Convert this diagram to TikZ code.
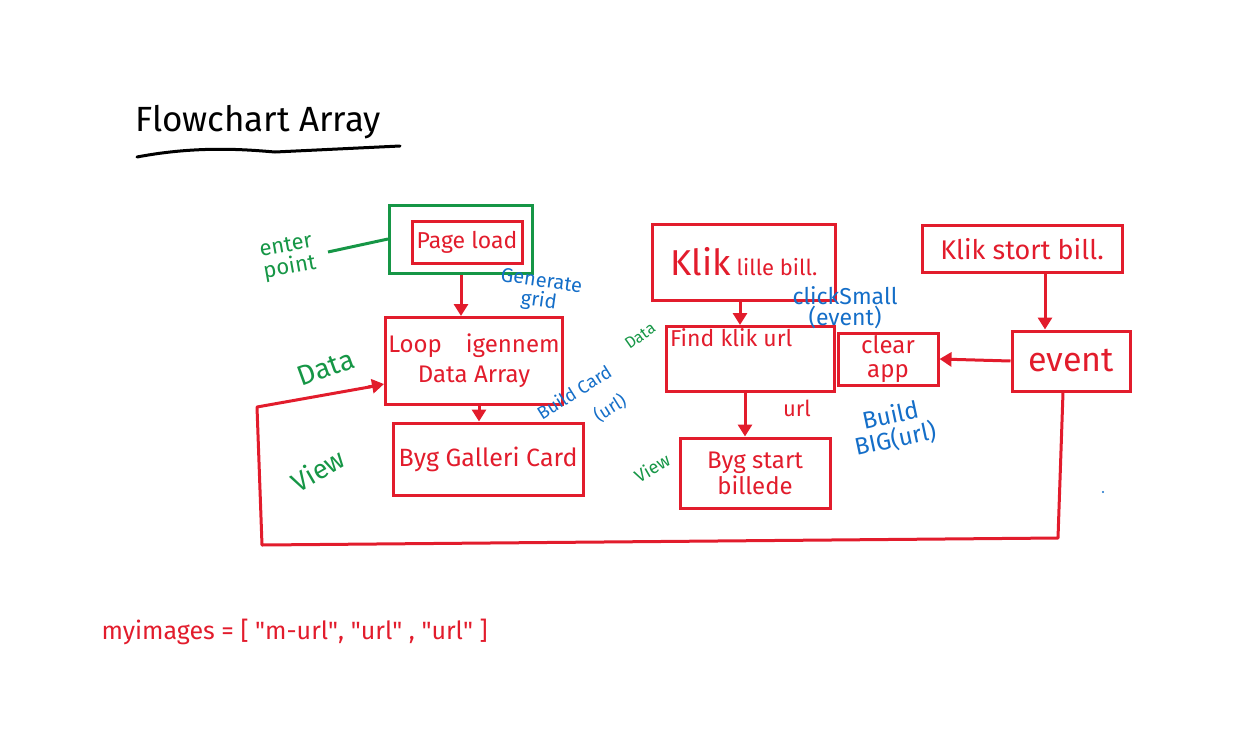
\documentclass[tikz,border=0pt]{standalone}
\usepackage{fontspec}
\setmainfont{Fira Sans}
\usetikzlibrary{arrows.meta,calc}
\definecolor{pen}{RGB}{226,28,44}
\definecolor{grn}{RGB}{22,150,70}
\definecolor{blu}{RGB}{20,110,200}
\newcommand{\fs}[1]{\fontsize{#1}{#1}\selectfont}
\tikzset{
  rbox/.style={draw=pen, line width=3pt, text=pen, align=center, inner sep=2pt, font=\fs{22}},
  gbox/.style={draw=grn, line width=3pt},
  rline/.style={draw=pen, line width=3pt},
  rarrow/.style={rline, -{Triangle[length=12pt,width=14pt]}},
  bnote/.style={text=blu, align=center, font=\fs{19}},
  gnote/.style={text=grn, align=center, font=\fs{20}},
}
\begin{document}
\begin{tikzpicture}[x=1pt,y=-1pt]
\useasboundingbox (0,0) rectangle (1235,753);
% title
\node[font=\fs{35}, text=black] (title) at (258,122) {Flowchart Array};
\draw[line width=3pt, black, line cap=round] (137,157) .. controls (200,145) and (250,150) .. (275,152) -- (400,146);
% page load
\node[gbox, minimum width=143pt, minimum height=68pt] (green) at (461,239) {};
\node[rbox, minimum width=110pt, minimum height=42pt, font=\fs{23}] (page) at (467,242) {Page load};
\node[gnote, rotate=10, font=\fs{22}] (enter) at (288,258) {enter\\point};
\draw[grn, line width=3pt] (328,252) -- (green.west);
% loop
\node[rbox, minimum width=177pt, minimum height=87pt, font=\fs{24}] (loop) at (474,361) {Loop\quad igennem\\[6pt]Data Array};
\draw[rarrow] (green.south -| 461,0) -- (loop.north -| 461,0);
\node[bnote, rotate=-8, font=\fs{20}] (gen) at (540,292) {Generate\\grid};
% gallery card
\node[rbox, minimum width=190pt, minimum height=72pt, font=\fs{25}] (card) at (488,459) {Byg Galleri Card};
\draw[rarrow] (loop.south -| 479,0) -- (card.north -| 479,0);
\node[bnote, rotate=32, font=\fs{18}, inner sep=0pt] (buildcard) at (574,392) {Build Card};
\node[bnote, rotate=32, font=\fs{18}, inner sep=0pt] (buildurl) at (610,408) {(url)};
\node[gnote, rotate=20, font=\fs{28}] (data1) at (326,368) {Data};
\node[gnote, rotate=30, font=\fs{27}] (view1) at (318,470) {View};
% small image
\node[rbox, minimum width=183pt, minimum height=76pt] (small) at (744,262) {{\fs{36}Klik} lille bill.};
\node[rbox, minimum width=168pt, minimum height=65pt, anchor=north west] (find) at (665,325) {};
\node[text=pen, font=\fs{23}, anchor=north west, inner sep=2pt] (findtxt) at (668,326) {Find klik url};
\draw[rarrow] (small.south -| 740,0) -- (find.north -| 740,0);
\node[bnote, font=\fs{23}, inner sep=1pt] (clicksmall) at (845,308) {clickSmall\\[-2pt](event)};
\node[gnote, rotate=35, font=\fs{16}] (data2) at (640,336) {Data};
% clear app
\node[rbox, minimum width=100pt, minimum height=52pt, font=\fs{24}] (clear) at (888,359) {clear\\app};
% big image
\node[rbox, minimum width=200pt, minimum height=47pt, font=\fs{27}] (big) at (1022,249) {Klik stort bill.};
\node[rbox, minimum width=118pt, minimum height=60pt, font=\fs{34}] (event) at (1071,361) {event};
\draw[rarrow] (big.south -| 1045,0) -- (event.north -| 1045,0);
\draw[rarrow] (event.west) -- (clear.east);
% start image
\node[rbox, minimum width=150pt, minimum height=70pt, font=\fs{24}] (start) at (755,473) {Byg start\\[2pt]billede};
\draw[rarrow] (find.south -| 745,0) -- (start.north -| 745,0);
\node[text=pen, font=\fs{22}] (url) at (797,408) {url};
\node[bnote, rotate=12, font=\fs{24}] (buildbig) at (893,428) {Build\\BIG(url)};
\node[gnote, rotate=30, font=\fs{18}] (view2) at (652,468) {View};
% loop back
\coordinate (c1) at (1058,538);
\coordinate (c2) at (262,545);
\coordinate (c3) at (257,407);
\draw[rline, line join=round] (event.south -| 1063,0) -- (c1) -- (c2) -- (c3) -- (375,386);
\draw[rarrow] (368,387) -- (loop.west |- 0,384);
% array
\node[text=pen, font=\fs{25}, anchor=west] (arr) at (98,632) {myimages = [ \textquotedbl m-url\textquotedbl, \textquotedbl url\textquotedbl\ , \textquotedbl url\textquotedbl\ ]};
\fill[blu] (1103,492) circle (1.2pt);
\end{tikzpicture}
\end{document}
